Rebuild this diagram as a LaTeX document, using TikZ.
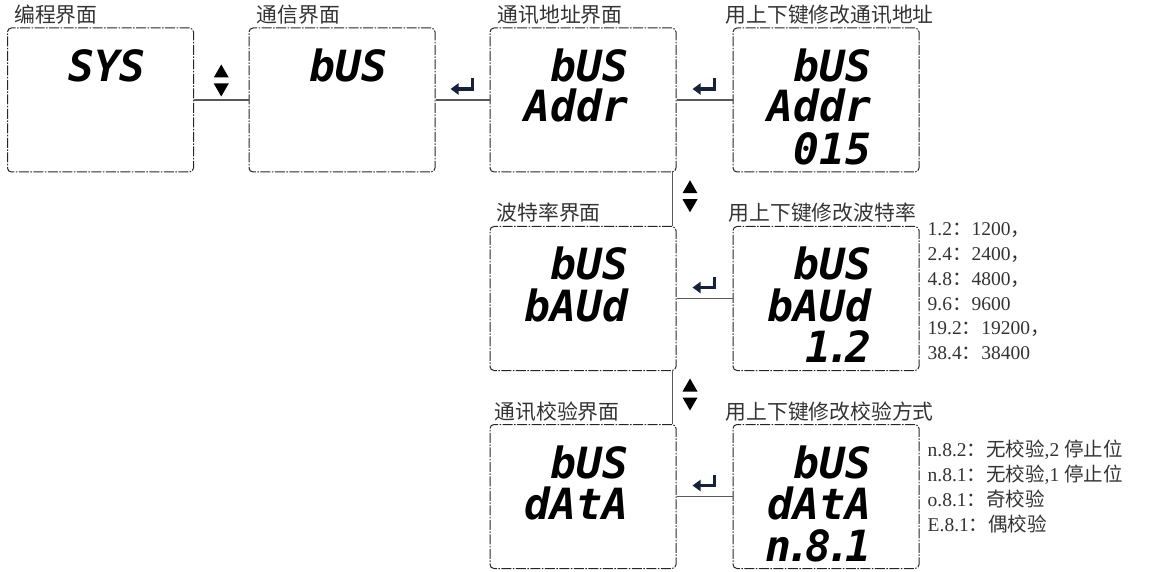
\documentclass[tikz,border=0pt]{standalone}
\usepackage{fontspec}
\newfontfamily\cjk{Noto Sans CJK SC}
\newfontfamily\segfont{DejaVu Sans Mono}
\newfontfamily\latfont{Liberation Serif}
\newcommand\zh[1]{{\cjk #1}}
\newcommand\dpt{\kern-6pt.\kern-6pt}
\usetikzlibrary{arrows.meta,calc}
\definecolor{keynavy}{RGB}{22,34,58}
\begin{document}
\begin{tikzpicture}[x=1pt,y=-1pt,
  panel/.style={draw=black!85, line width=1pt, rounded corners=4pt,
    dash pattern=on 10pt off 1.5pt on 1.5pt off 1.5pt,
    minimum width=186pt, minimum height=144pt, inner sep=0pt},
  title/.style={font=\cjk\fontsize{20.8}{24}\selectfont, text=black!80, anchor=base west, inner sep=0pt},
  seg/.style={font=\segfont\bfseries\itshape\fontsize{43}{43}\selectfont, anchor=base east, inner sep=0pt},
  note/.style={font=\latfont\fontsize{19.5}{24}\selectfont, text=black!80, anchor=base west, inner sep=0pt},
  conn/.style={draw=black!65, line width=1.2pt},
  enterkey/.pic={\draw[keynavy, line width=3.6pt, -{Triangle[length=8pt,width=11pt]}] (10,-8) -- (10,2.5) -- (-12,2.5);},
  updown/.pic={\fill (-7.5,-3) -- (7.5,-3) -- (0,-16) -- cycle; \fill (-7.5,3) -- (7.5,3) -- (0,16) -- cycle;}
]
\useasboundingbox (0,0) rectangle (1167,572);

% panels
\node[panel] (b1) at (100.5,100) {};
\node[panel] (b2) at (342,100) {};
\node[panel] (b3) at (583,100) {};
\node[panel] (b4) at (826,100) {};
\node[panel] (b5) at (583,298.5) {};
\node[panel] (b6) at (826,298.5) {};
\node[panel] (b7) at (583,496.5) {};
\node[panel] (b8) at (826,496.5) {};

% titles
\node[title] (t1) at ([xshift=7pt,yshift=5pt]b1.north west) {编程界面};
\node[title] (t2) at ([xshift=8pt,yshift=5pt]b2.north west) {通信界面};
\node[title] (t3) at ([xshift=8pt,yshift=5pt]b3.north west) {通讯地址界面};
\node[title] (t4) at ([xshift=-7pt,yshift=5pt]b4.north west) {用上下键修改通讯地址};
\node[title] (t5) at ([xshift=7pt,yshift=5pt]b5.north west) {波特率界面};
\node[title] (t6) at ([xshift=-4pt,yshift=5pt]b6.north west) {用上下键修改波特率};
\node[title] (t7) at ([xshift=5pt,yshift=5pt]b7.north west) {通讯校验界面};
\node[title] (t8) at ([xshift=-7pt,yshift=5pt]b8.north west) {用上下键修改校验方式};

% display texts
\node[seg] (d1a) at ([xshift=-48pt,yshift=-54.5pt]b1.north east) {SYS};
\node[seg] (d2a) at ([xshift=-48pt,yshift=-54.5pt]b2.north east) {bUS};
\node[seg] (d3a) at ([xshift=-48pt,yshift=-54pt]b3.north east) {bUS};
\node[seg] (d3b) at ([xshift=-48pt,yshift=-94pt]b3.north east) {Addr};
\node[seg] (d4a) at ([xshift=-48pt,yshift=-54pt]b4.north east) {bUS};
\node[seg] (d4b) at ([xshift=-48pt,yshift=-94pt]b4.north east) {Addr};
\node[seg] (d4c) at ([xshift=-48pt,yshift=-137pt]b4.north east) {015};
\node[seg] (d5a) at ([xshift=-48pt,yshift=-53pt]b5.north east) {bUS};
\node[seg] (d5b) at ([xshift=-48pt,yshift=-95pt]b5.north east) {bAUd};
\node[seg] (d6a) at ([xshift=-48pt,yshift=-53pt]b6.north east) {bUS};
\node[seg] (d6b) at ([xshift=-48pt,yshift=-95pt]b6.north east) {bAUd};
\node[seg] (d6c) at ([xshift=-48pt,yshift=-136pt]b6.north east) {1\dpt 2};
\node[seg] (d7a) at ([xshift=-48pt,yshift=-54pt]b7.north east) {bUS};
\node[seg] (d7b) at ([xshift=-48pt,yshift=-95pt]b7.north east) {dAtA};
\node[seg] (d8a) at ([xshift=-48pt,yshift=-54pt]b8.north east) {bUS};
\node[seg] (d8b) at ([xshift=-48pt,yshift=-95pt]b8.north east) {dAtA};
\node[seg] (d8c) at ([xshift=-48pt,yshift=-137pt]b8.north east) {n\dpt 8\dpt 1};

% connectors
\draw[conn] (b1.east) -- (b2.west);
\draw[conn] (b2.east) -- (b3.west);
\draw[conn] (b3.east) -- (b4.west);
\draw[conn] (b5.east) -- (b6.west);
\draw[conn] (b7.east) -- (b8.west);
\draw[conn] ([xshift=-4pt]b3.south east) -- ([xshift=-4pt]b5.north east);
\draw[conn] ([xshift=-4pt]b5.south east) -- ([xshift=-4pt]b7.north east);

% key symbols
\pic at ($(b1.east)!0.5!(b2.west)+(0,-19.5)$) {updown};
\pic at ($([xshift=-4pt]b3.south east)!0.5!([xshift=-4pt]b5.north east)+(17.5,-3)$) {updown};
\pic at ($([xshift=-4pt]b5.south east)!0.5!([xshift=-4pt]b7.north east)+(17.5,-3)$) {updown};
\pic at ($(b2.east)!0.5!(b3.west)+(0,-13.5)$) {enterkey};
\pic at ($(b3.east)!0.5!(b4.west)+(0,-13.5)$) {enterkey};
\pic at ($(b5.east)!0.5!(b6.west)+(0,-13.5)$) {enterkey};
\pic at ($(b7.east)!0.5!(b8.west)+(0,-13.5)$) {enterkey};

% baud list
\node[note] (n1) at ([xshift=8pt,yshift=-10pt]b6.north east) {1.2\zh{：}1200\zh{，}};
\node[note] (n2) at ([xshift=8pt,yshift=-34.7pt]b6.north east) {2.4\zh{：}2400\zh{，}};
\node[note] (n3) at ([xshift=8pt,yshift=-59.4pt]b6.north east) {4.8\zh{：}4800\zh{，}};
\node[note] (n4) at ([xshift=8pt,yshift=-84.1pt]b6.north east) {9.6\zh{：}9600};
\node[note] (n5) at ([xshift=8pt,yshift=-108.8pt]b6.north east) {19.2\zh{：}19200\zh{，}};
\node[note] (n6) at ([xshift=8pt,yshift=-133.5pt]b6.north east) {38.4\zh{：}38400};

% parity list
\node[note] (p1) at ([xshift=8pt,yshift=-32pt]b8.north east) {n.8.2\zh{：无校验},2 \zh{停止位}};
\node[note] (p2) at ([xshift=8pt,yshift=-57pt]b8.north east) {n.8.1\zh{：无校验},1 \zh{停止位}};
\node[note] (p3) at ([xshift=8pt,yshift=-82pt]b8.north east) {o.8.1\zh{：奇校验}};
\node[note] (p4) at ([xshift=8pt,yshift=-107pt]b8.north east) {E.8.1\zh{：偶校验}};
\end{tikzpicture}
\end{document}
